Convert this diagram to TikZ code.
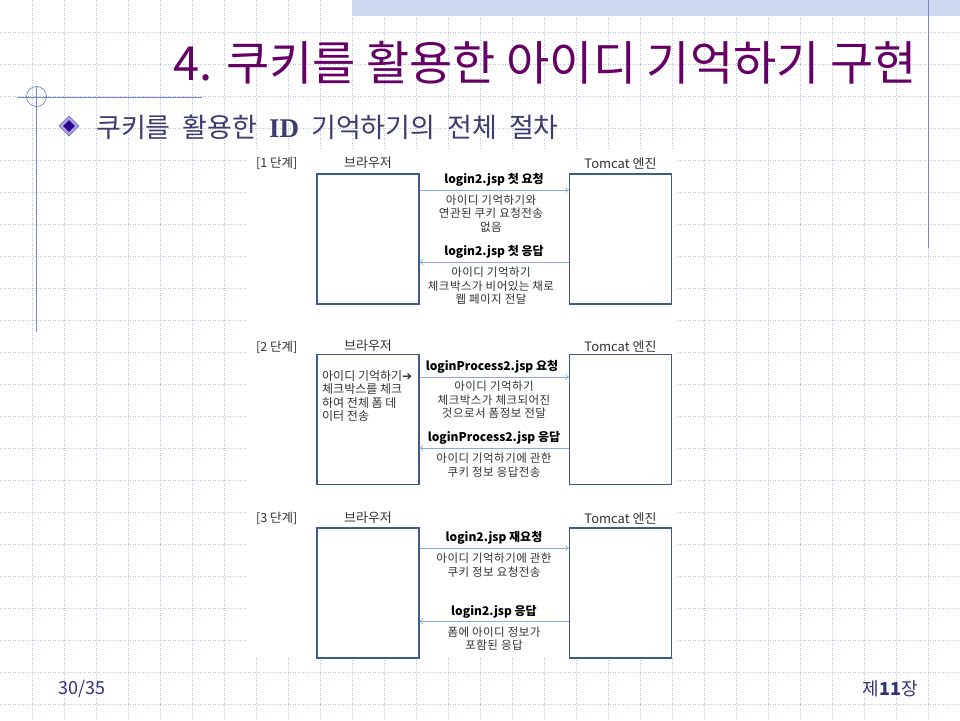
\documentclass[tikz,border=0pt]{standalone}
\usepackage{fontspec}
\setmainfont{Noto Sans CJK KR}
\newfontfamily\symf{DejaVu Sans}
\newfontfamily\serf{Liberation Serif}
\newfontfamily\notefont[LetterSpace=4]{Noto Sans CJK KR}
\newcommand\subwidesp{\spaceskip=12pt\relax}
\usetikzlibrary{arrows.meta,shapes.geometric}
\definecolor{gridc}{RGB}{185,195,225}
\definecolor{bandc}{RGB}{203,216,240}
\definecolor{linec}{RGB}{120,135,195}
\definecolor{titlec}{RGB}{102,0,102}
\definecolor{subc}{RGB}{60,60,110}
\definecolor{footc}{RGB}{50,50,120}
\definecolor{boxc}{RGB}{65,90,140}
\definecolor{arrc}{RGB}{140,170,215}
\definecolor{txtc}{RGB}{50,50,50}
\definecolor{diaout}{RGB}{175,165,225}
\definecolor{diaedge}{RGB}{120,110,190}
\definecolor{diain}{RGB}{40,0,140}
\begin{document}
\begin{tikzpicture}[x=1pt,y=-1pt,
  gridline/.style={draw=gridc, line width=0.6pt, dash pattern=on 1pt off 1.5pt},
  deco/.style={draw=linec, line width=0.9pt},
  actor/.style={draw=boxc, line width=1.1pt, minimum width=102pt, minimum height=130pt, inner sep=0pt, fill=white},
  msg/.style={draw=arrc, line width=0.7pt, -{To[length=3.5pt,width=6pt]}},
  lbl/.style={font=\fontsize{12}{14}\selectfont\bfseries, text=black, inner sep=0pt},
  note/.style={font=\notefont\fontsize{11.5}{13.5}\selectfont, text=txtc, align=center, inner sep=0pt},
  head/.style={font=\fontsize{13}{15}\selectfont, text=txtc, inner sep=0pt},
  stage/.style={font=\fontsize{12.5}{14}\selectfont, text=txtc, inner sep=0pt, anchor=west},
  bullet/.style={diamond, shape aspect=1, inner sep=0pt},
]
\useasboundingbox (0,0) rectangle (960,720);
\fill[white] (0,0) rectangle (960,720);
% grid
\foreach \i in {1,...,29} \draw[gridline] (\i*32,0) -- (\i*32,720);
\foreach \j in {1,...,22} \draw[gridline] (0,\j*32) -- (960,\j*32);
% band
\fill[bandc] (352,0) rectangle (960,16);
% decoration lines
\draw[deco] (928,0) -- (928,248);
\draw[deco] (17,97) -- (202,97);
\draw[deco] (36,87) -- (36,332);
\draw[deco, line width=0.7pt] (36.5,96.5) circle (10);
% title
\node[font=\fontsize{47}{50}\selectfont, text=titlec, inner sep=0pt] (title) at (545,63) {4. 쿠키를 활용한 아이디 기억하기 구현};
% bullet
\node[bullet, fill=diaout, draw=diaedge, line width=0.6pt, minimum size=20pt] (bulo) at (69,126) {};
\node[bullet, fill=diain, draw=none, minimum size=12pt] (buli) at (69,126) {};
\node[font=\fontsize{27}{29}\selectfont, text=subc, anchor=west, inner sep=0pt] (sub) at (96,127) {\subwidesp 쿠키를 활용한 {\serf\bfseries ID} 기억하기의 전체 절차};
% diagram background
\fill[white] (247,150) rectangle (676,656);

% ---------- stage 1
\node[stage] (s1) at (256,163) {[1 단계]};
\node[actor] (br1) at (368,239) {};
\node[actor] (tc1) at (620.5,239) {};
\node[head] (hb1) at (368,163) {브라우저};
\node[head] (ht1) at (620.5,163) {Tomcat 엔진};
\coordinate (r1) at (0,190);
\coordinate (r2) at (0,262);
\draw[msg] (br1.east |- r1) -- (tc1.west |- r1);
\draw[msg] (tc1.west |- r2) -- (br1.east |- r2);
\node[lbl] (l11) at (494,180) {login2.jsp 첫 요청};
\node[note] (n11) at (491,213.5) {아이디 기억하기와\\연관된 쿠키 요청전송\\없음};
\node[lbl] (l12) at (494,252) {login2.jsp 첫 응답};
\node[note] (n12) at (491,286) {아이디 기억하기\\체크박스가 비어있는 채로\\웹 페이지 전달};

% ---------- stage 2
\node[stage] (s2) at (256,347) {[2 단계]};
\node[actor] (br2) at (368,419.5) {};
\node[actor] (tc2) at (620.5,419.5) {};
\node[head] (hb2) at (368,346) {브라우저};
\node[head] (ht2) at (620.5,346) {Tomcat 엔진};
\node[font=\fontsize{12}{13.5}\selectfont, text=txtc, align=left, anchor=north west, inner sep=0pt] (bt2) at (322,370) {아이디 기억하기{\symf\bfseries ➔}\\체크박스를 체크\\하여 전체 폼 데\\이터 전송};
\coordinate (r3) at (0,377);
\coordinate (r4) at (0,448);
\draw[msg] (br2.east |- r3) -- (tc2.west |- r3);
\draw[msg] (tc2.west |- r4) -- (br2.east |- r4);
\node[lbl] (l21) at (492,367) {loginProcess2.jsp 요청};
\node[note] (n21) at (494,400) {아이디 기억하기\\체크박스가 체크되어진\\것으로서 폼정보 전달};
\node[lbl] (l22) at (494,438) {loginProcess2.jsp 응답};
\node[note] (n22) at (494,465) {아이디 기억하기에 관한\\쿠키 정보 응답전송};

% ---------- stage 3
\node[stage] (s3) at (256,518) {[3 단계]};
\node[actor] (br3) at (368,593) {};
\node[actor] (tc3) at (620.5,593) {};
\node[head] (hb3) at (368,518) {브라우저};
\node[head] (ht3) at (620.5,518) {Tomcat 엔진};
\coordinate (r5) at (0,548);
\coordinate (r6) at (0,621);
\draw[msg] (br3.east |- r5) -- (tc3.west |- r5);
\draw[msg] (tc3.west |- r6) -- (br3.east |- r6);
\node[lbl] (l31) at (494,538) {login2.jsp 재요청};
\node[note] (n31) at (494,565) {아이디 기억하기에 관한\\쿠키 정보 요청전송};
\node[lbl] (l32) at (494,612) {login2.jsp 응답};
\node[note] (n32) at (494,638.5) {폼에 아이디 정보가\\포함된 응답};

% footer
\node[font=\fontsize{18}{20}\selectfont, text=footc, inner sep=0pt, anchor=west] (pg) at (58,689) {30/35};
\node[font=\fontsize{18}{20}\selectfont, text=footc, inner sep=0pt, anchor=east] (ch) at (918,689) {제\textbf{11}장};
\end{tikzpicture}
\end{document}
